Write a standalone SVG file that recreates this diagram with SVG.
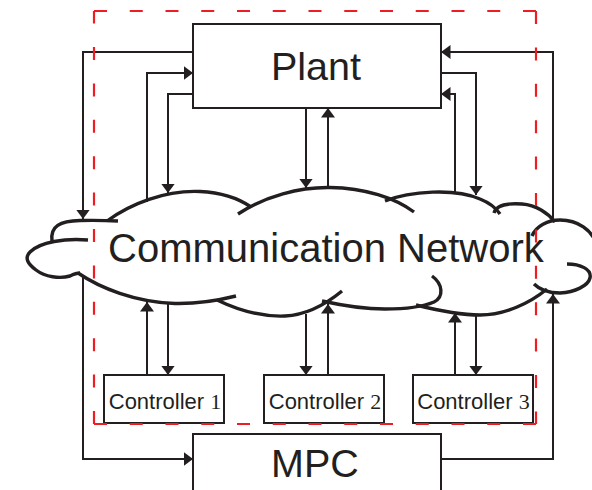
<svg xmlns="http://www.w3.org/2000/svg" width="592" height="490" viewBox="0 0 592 490">
  <style>
    .box { fill: #ffffff; stroke: #231f20; stroke-width: 2; }
    .wire { fill: none; stroke: #231f20; stroke-width: 2; }
    .cloud path { fill: none; stroke: #231f20; stroke-width: 3.4; stroke-linecap: butt; }
    .big { font-family: "Liberation Sans", Arial, sans-serif; font-size: 39.5px; fill: #231f20; }
    .label { font-size: 40px; }
    .small { font-family: "Liberation Sans", Arial, sans-serif; font-size: 22px; fill: #231f20; }
    .num { font-family: "Liberation Serif", "Times New Roman", serif; }
    .frame { fill: none; stroke: #ee1d23; stroke-width: 2.2; }
  </style>
  <defs>
    <marker id="arrow" markerUnits="userSpaceOnUse" markerWidth="11" markerHeight="14" refX="9.5" refY="7" orient="auto">
      <path d="M0,0 L9.5,7 L0,14 Z" fill="#231f20"/>
    </marker>
  </defs>
  <rect width="592" height="490" fill="#ffffff"/>

  <!-- network cloud drawn as overlapping arcs -->
  <g id="network" class="cloud">
    <path d="M52,241 C50,226 60,221 80,220.5 C95,220.2 108,220.5 118,221"/>
    <path d="M107,221 C130,204 165,190 200,191.5 C222,192.5 238,198 251,207"/>
    <path d="M238,214 C265,196 300,187 330,187.5 C365,188 395,198 414,212"/>
    <path d="M385,201 C410,191 455,188 480,199 C490,203 496,208 500,214"/>
    <path d="M494,213 C496,205 508,203 522,204 C536,205 548,213 555,222"/>
    <path d="M532,236 C536,226 548,220 560,220 C578,220 592,230 597,245"/>
    <path d="M567,264 C580,264 592,269 590,278 C588,286 575,292 560,293 C548,293 540,290 534,284"/>
    <path d="M416,305 C440,311 460,315 480,315 C505,315 530,303 547,289"/>
    <path d="M432,276 C443,284 444,297 434,302 C420,308 400,309 385,309 C360,309 340,305 322,301"/>
    <path d="M217,300 C240,311 262,317 285,316 C305,315 325,305 342,291"/>
    <path d="M78,273 C100,288 135,302 175,303.5 C200,304 220,300 236,296"/>
    <path d="M88,240 C65,238 40,242 30,252 C24,258 28,264 36,270 C45,277 60,279 70,276 C74,274 77,273 80,273"/>
    <text class="big label" x="108" y="262">Communication Network</text>
  </g>

  <g id="plant">
    <rect class="box" x="193" y="24" width="248" height="84"/>
    <text class="big" x="316" y="80" text-anchor="middle">Plant</text>
  </g>

  <g id="mpc">
    <rect class="box" x="193" y="434" width="248" height="70"/>
    <text class="big" x="315" y="477" text-anchor="middle">MPC</text>
  </g>

  <g id="controller1">
    <rect class="box" x="104" y="375" width="120" height="48"/>
    <text class="small" x="165" y="409" text-anchor="middle">Controller <tspan class="num">1</tspan></text>
  </g>
  <g id="controller2">
    <rect class="box" x="264" y="375" width="120" height="48"/>
    <text class="small" x="325" y="409" text-anchor="middle">Controller <tspan class="num">2</tspan></text>
  </g>
  <g id="controller3">
    <rect class="box" x="413" y="375" width="120" height="48"/>
    <text class="small" x="473.5" y="409" text-anchor="middle">Controller <tspan class="num">3</tspan></text>
  </g>

  <g id="connectors" class="wire">
    <!-- plant side -->
    <path d="M193,52 H83 V219" marker-end="url(#arrow)"/>
    <path d="M147,202 V73 H193" marker-end="url(#arrow)"/>
    <path d="M193,94 H168 V193" marker-end="url(#arrow)"/>
    <path d="M306,108 V188" marker-end="url(#arrow)"/>
    <path d="M328,187 V108" marker-end="url(#arrow)"/>
    <path d="M455,192 V94 H441" marker-end="url(#arrow)"/>
    <path d="M441,73 H476 V195" marker-end="url(#arrow)"/>
    <path d="M553,221 V52 H441" marker-end="url(#arrow)"/>
    <!-- controller side -->
    <path d="M147,375 V302" marker-end="url(#arrow)"/>
    <path d="M168,303 V375" marker-end="url(#arrow)"/>
    <path d="M306,314 V375" marker-end="url(#arrow)"/>
    <path d="M328,375 V304" marker-end="url(#arrow)"/>
    <path d="M455,375 V313" marker-end="url(#arrow)"/>
    <path d="M476,315 V375" marker-end="url(#arrow)"/>
    <!-- mpc side -->
    <path d="M83,276 V459 H193" marker-end="url(#arrow)"/>
    <path d="M441,459 H553 V294" marker-end="url(#arrow)"/>
  </g>

  <!-- dashed boundary, one side per path so every corner starts on a dash -->
  <g id="boundary" class="frame">
    <path d="M94,11 H536" stroke-dasharray="13 22.75"/>
    <path d="M536,11 V424" stroke-dasharray="13 23.4"/>
    <path d="M536,424 H94" stroke-dasharray="13 22.75"/>
    <path d="M94,424 V11" stroke-dasharray="13 23.4"/>
  </g>
</svg>
